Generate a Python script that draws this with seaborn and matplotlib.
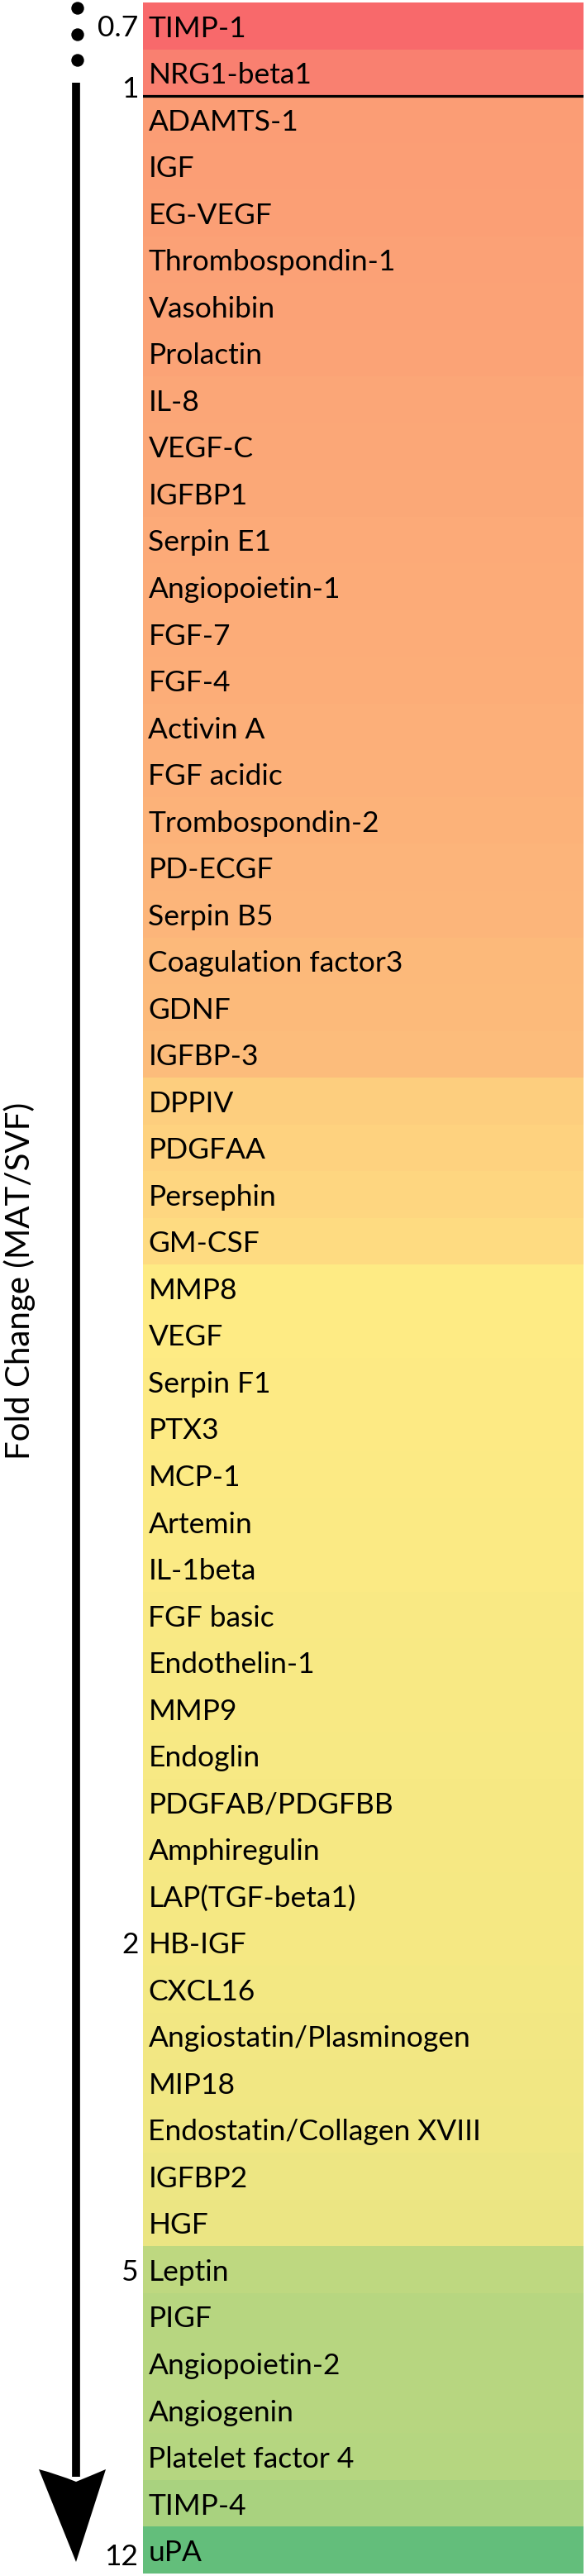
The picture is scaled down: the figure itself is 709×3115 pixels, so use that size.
import matplotlib
matplotlib.use('Agg')
import matplotlib.pyplot as plt
import seaborn as sns
import numpy as np
import pandas as pd
from matplotlib.colors import LinearSegmentedColormap
from matplotlib.path import Path
from matplotlib.patches import PathPatch, Circle

# proteins, ordered by fold change (MAT/SVF), low at top
proteins = ['TIMP-1', 'NRG1-beta1', 'ADAMTS-1', 'IGF', 'EG-VEGF', 'Thrombospondin-1',
            'Vasohibin', 'Prolactin', 'IL-8', 'VEGF-C', 'IGFBP1', 'Serpin E1',
            'Angiopoietin-1', 'FGF-7', 'FGF-4', 'Activin A', 'FGF acidic',
            'Trombospondin-2', 'PD-ECGF', 'Serpin B5', 'Coagulation factor3', 'GDNF',
            'IGFBP-3', 'DPPIV', 'PDGFAA', 'Persephin', 'GM-CSF', 'MMP8', 'VEGF',
            'Serpin F1', 'PTX3', 'MCP-1', 'Artemin', 'IL-1beta', 'FGF basic',
            'Endothelin-1', 'MMP9', 'Endoglin', 'PDGFAB/PDGFBB', 'Amphiregulin',
            'LAP(TGF-beta1)', 'HB-IGF', 'CXCL16', 'Angiostatin/Plasminogen', 'MIP18',
            'Endostatin/Collagen XVIII', 'IGFBP2', 'HGF', 'Leptin', 'PIGF',
            'Angiopoietin-2', 'Angiogenin', 'Platelet factor 4', 'TIMP-4', 'uPA']

# colour-scale position (-1 red, 0 yellow, 1 green)
scale = [-1.00, -0.82, -0.60, -0.59, -0.58, -0.57, -0.56, -0.55, -0.53, -0.52,
         -0.51, -0.50, -0.49, -0.48, -0.47, -0.46, -0.45, -0.43, -0.42, -0.41,
         -0.39, -0.38, -0.36, -0.22, -0.19, -0.16, -0.12, 0.00, 0.005, 0.01,
         0.015, 0.02, 0.025, 0.03, 0.035, 0.04, 0.045, 0.05, 0.055, 0.06,
         0.065, 0.07, 0.075, 0.08, 0.09, 0.10, 0.11, 0.13, 0.42, 0.46,
         0.46, 0.46, 0.47, 0.55, 1.00]

# fold change tick labels and the row they sit on
tick_rows = [0.5, 1.8, 41.5, 48.5, 54.6]
tick_labels = ['0.7', '1', '2', '5', '12']

FONT = 'Lato'
W, H = 709, 3115

fig = plt.figure(figsize=(W / 100, H / 100), dpi=100)
fig.set_facecolor('white')

ax = fig.add_axes([173 / W, 3 / H, 533 / W, 3109 / H])
cmap = LinearSegmentedColormap.from_list('excel', ['#F8696B', '#FFEB84', '#63BE7B'])
df = pd.DataFrame({'scale': scale}, index=proteins)
sns.heatmap(df, ax=ax, cmap=cmap, vmin=-1, vmax=1, cbar=False,
            xticklabels=False, yticklabels=False, linewidths=0)

for i, name in enumerate(proteins):
    ax.text(0.012, i + 0.56, name, fontsize=25.5, family=FONT, va='center', ha='left',
            color='black')

# line marking fold change = 1
ax.axhline(2, color='black', lw=2.3)

ax.set_yticks(tick_rows)
ax.set_yticklabels(tick_labels, fontsize=25.5, family=FONT)
ax.tick_params(axis='y', length=0, pad=4)
ax.set_ylabel('')

# decorations: arrow, dots and axis title in pixel coordinates
deco = fig.add_axes([0, 0, 1, 1], zorder=-1)
deco.set_xlim(0, W)
deco.set_ylim(H, 0)
deco.axis('off')

ax_x = 92
deco.plot([ax_x, ax_x], [100, 2995], color='black', lw=7, solid_capstyle='butt')
head = Path([(47, 2986), (70, 2992), (ax_x, 3001), (114, 2992), (128, 2986),
             (ax_x, 3098), (47, 2986)],
            [Path.MOVETO, Path.CURVE3, Path.CURVE3, Path.CURVE3, Path.CURVE3,
             Path.LINETO, Path.CLOSEPOLY])
deco.add_patch(PathPatch(head, facecolor='black', edgecolor='black', lw=0))
for yy in [10, 42, 73]:
    deco.add_patch(Circle((94, yy), 7, color='black'))

deco.text(24, 1549, 'Fold Change (MAT/SVF)', rotation=90, fontsize=29, family=FONT,
          ha='center', va='center')

fig.savefig('out.png', dpi=100, facecolor='white')
